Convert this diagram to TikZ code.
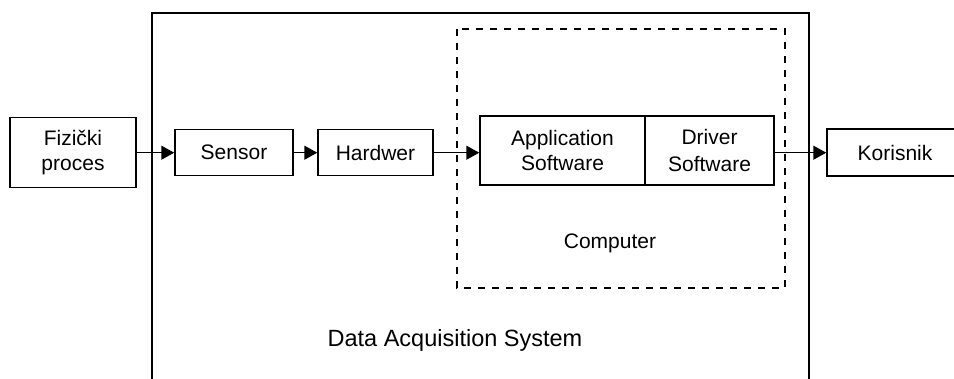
\documentclass[tikz,border=0pt]{standalone}
\usepackage{fontspec}
\setmainfont{Liberation Sans}
\usetikzlibrary{arrows.meta}
\begin{document}
\begin{tikzpicture}[x=1pt,y=-1pt,
  blk/.style={draw,line width=1.5pt,rectangle,inner sep=0pt,align=center,font=\fontsize{21}{25}\selectfont},
  arr/.style={line width=1.5pt,-{Triangle[length=13pt,width=14pt]}},
  lbl/.style={inner sep=0pt,font=\fontsize{21}{25}\selectfont}]
\useasboundingbox (0,0) rectangle (954,378);
\clip (0,0) rectangle (954,378);
\fill[white] (0,0) rectangle (954,378);
% outer box
\draw[line width=1.5pt] (152,13) rectangle (809,400);
% computer dashed box
\draw[line width=1.5pt,dash pattern=on 7pt off 7pt] (457,29) rectangle (785,288);
% blocks
\node[blk,minimum width=126pt,minimum height=70pt] (fiz) at (73,152.7) {Fizički\\proces};
\node[blk,minimum width=118pt,minimum height=46pt] (sen) at (234,152.7) {Sensor};
\node[blk,minimum width=115pt,minimum height=46pt] (hw) at (375.5,152.7) {Hardwer};
\node[blk,minimum width=165pt,minimum height=69pt] (app) at (562.5,150.5) {Application\\Software};
\node[blk,minimum width=129pt,minimum height=69pt] (drv) at (709.5,150.5) {Driver\\[2pt]Software};
\node[blk,minimum width=136pt,minimum height=47pt] (kor) at (895,152.7) {Korisnik};
% labels
\node[lbl] (comp) at (610,243) {Computer};
\node[lbl,font=\fontsize{23.5}{28}\selectfont] (das) at (455,340) {Data Acquisition System};
% connectors
\draw[arr] (fiz.east) -- (sen.west);
\draw[arr] (sen.east) -- (hw.west);
\draw[arr] (hw.east) -- (hw.east -| app.west);
\draw[arr] (kor.west -| drv.east) -- (kor.west);
\end{tikzpicture}
\end{document}
